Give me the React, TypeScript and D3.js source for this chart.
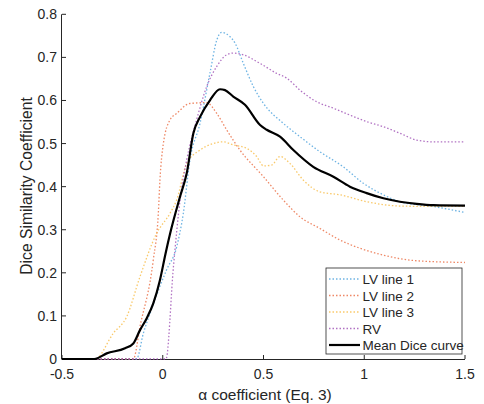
import React from "react";
import * as d3 from "d3";

// series: [alpha, dice]
const lvLine1: [number, number][] = [
  [-0.5, 0], [-0.13, 0], [-0.096, 0.06], [-0.063, 0.106], [0.019, 0.207], [0.069, 0.26],
  [0.102, 0.338], [0.135, 0.462], [0.185, 0.547], [0.234, 0.663], [0.268, 0.74],
  [0.292, 0.758], [0.334, 0.748], [0.359, 0.733], [0.4, 0.686], [0.45, 0.632],
  [0.5, 0.593], [0.598, 0.547], [0.681, 0.516], [0.78, 0.481], [0.896, 0.446],
  [0.995, 0.408], [1.095, 0.381], [1.177, 0.365], [1.343, 0.354], [1.5, 0.34],
];
const lvLine2: [number, number][] = [
  [-0.5, 0], [-0.146, 0], [-0.113, 0.075], [-0.047, 0.23], [-0.022, 0.338], [-0.014, 0.415],
  [0.003, 0.5], [0.036, 0.555], [0.069, 0.57], [0.135, 0.593], [0.218, 0.595],
  [0.268, 0.57], [0.317, 0.532], [0.383, 0.485], [0.5, 0.423], [0.598, 0.369],
  [0.681, 0.33], [0.78, 0.303], [0.88, 0.276], [0.979, 0.257], [1.095, 0.241],
  [1.26, 0.228], [1.5, 0.224],
];
const lvLine3: [number, number][] = [
  [-0.5, 0], [-0.336, 0], [-0.245, 0.06], [-0.179, 0.098], [-0.113, 0.191], [-0.03, 0.292],
  [0.036, 0.338], [0.069, 0.369], [0.119, 0.454], [0.185, 0.485], [0.251, 0.5],
  [0.3, 0.504], [0.35, 0.497], [0.416, 0.489], [0.466, 0.47], [0.5, 0.448],
  [0.54, 0.45], [0.582, 0.47], [0.631, 0.454], [0.698, 0.415], [0.78, 0.388],
  [0.88, 0.381], [1.012, 0.365], [1.177, 0.355], [1.343, 0.354], [1.5, 0.354],
];
const rv: [number, number][] = [
  [-0.5, 0], [0.016, 0], [0.053, 0.214], [0.086, 0.369], [0.119, 0.462], [0.168, 0.555],
  [0.218, 0.632], [0.268, 0.679], [0.317, 0.706], [0.35, 0.71], [0.4, 0.706],
  [0.483, 0.686], [0.565, 0.663], [0.615, 0.652], [0.681, 0.624], [0.764, 0.597],
  [0.847, 0.582], [0.929, 0.566], [1.012, 0.551], [1.095, 0.539], [1.177, 0.524],
  [1.26, 0.508], [1.343, 0.504], [1.5, 0.504],
];
const meanDice: [number, number][] = [
  [-0.5, 0], [-0.34, 0], [-0.278, 0.013], [-0.187, 0.025], [-0.146, 0.036], [-0.113, 0.067],
  [-0.08, 0.094], [-0.047, 0.129], [-0.014, 0.183], [0.014, 0.245], [0.036, 0.29],
  [0.086, 0.377], [0.119, 0.431], [0.152, 0.524], [0.185, 0.562], [0.235, 0.601],
  [0.284, 0.626], [0.309, 0.624], [0.35, 0.609], [0.408, 0.59], [0.483, 0.543],
  [0.516, 0.532], [0.582, 0.516], [0.648, 0.485], [0.747, 0.446], [0.847, 0.423],
  [0.929, 0.4], [1.012, 0.385], [1.095, 0.373], [1.177, 0.365], [1.26, 0.36],
  [1.343, 0.357], [1.5, 0.356],
];

const xTicks = [-0.5, 0, 0.5, 1, 1.5];
const xTickLabels = ["-0.5", "0", "0.5", "1", "1.5"];
const yTicks = [0, 0.1, 0.2, 0.3, 0.4, 0.5, 0.6, 0.7, 0.8];
const yTickLabels = ["0", "0.1", "0.2", "0.3", "0.4", "0.5", "0.6", "0.7", "0.8"];

const seriesNames = ["LV line 1", "LV line 2", "LV line 3", "RV", "Mean Dice curve"];

const W = 484;
const H = 404;
const FONT = "'Liberation Sans', Arial, Helvetica, sans-serif";
const TXT = "#262626";

export default function App() {
  const x = d3.scaleLinear().domain([-0.5, 1.5]).range([62, 465]);
  const y = d3.scaleLinear().domain([0, 0.8]).range([359, 14.3]);
  const line = d3.line<[number, number]>()
    .x((d) => x(d[0]))
    .y((d) => y(d[1]))
    .curve(d3.curveMonotoneX);

  const series = [
    { name: seriesNames[0], data: lvLine1, color: "#4aa0dc", dash: "1.5 2", w: 1.3, op: 0.8 },
    { name: seriesNames[1], data: lvLine2, color: "#ea6a40", dash: "1.5 2", w: 1.3, op: 0.8 },
    { name: seriesNames[2], data: lvLine3, color: "#f7bb45", dash: "1.5 2", w: 1.3, op: 0.8 },
    { name: seriesNames[3], data: rv, color: "#9e4fb4", dash: "1.5 2", w: 1.3, op: 0.8 },
    { name: seriesNames[4], data: meanDice, color: "#000000", dash: "", w: 2.2, op: 1 },
  ];

  const lg = { x: 326, y: 268, w: 136, h: 86 };

  return (
    <svg width={W} height={H} style={{ position: "absolute", left: 0, top: 0, background: "#fff" }}>
      <rect x={0} y={0} width={W} height={H} fill="#fff" />
      <defs>
        <clipPath id="plot">
          <rect x={x(-0.5)} y={y(0.8)} width={x(1.5) - x(-0.5)} height={y(0) - y(0.8) + 1} />
        </clipPath>
      </defs>
      {/* axes */}
      <g stroke={TXT} strokeWidth={1}>
        <line x1={x(-0.5)} x2={x(1.5)} y1={y(0) + 0.5} y2={y(0) + 0.5} />
        <line x1={x(-0.5) - 0.5} x2={x(-0.5) - 0.5} y1={y(0.8)} y2={y(0) + 0.5} />
        {xTicks.map((t) => (
          <line key={"xt" + t} x1={x(t)} x2={x(t)} y1={y(0)} y2={y(0) - 4} />
        ))}
        {yTicks.map((t) => (
          <line key={"yt" + t} x1={x(-0.5)} x2={x(-0.5) + 4} y1={y(t)} y2={y(t)} />
        ))}
      </g>
      <g fontFamily={FONT} fontSize={14} fill={TXT}>
        {xTicks.map((t, i) => (
          <text key={"xl" + t} x={x(t)} y={y(0) + 20} textAnchor="middle">{xTickLabels[i]}</text>
        ))}
        {yTicks.map((t, i) => (
          <text key={"yl" + t} x={x(-0.5) - 5} y={y(t) + 5} textAnchor="end">{yTickLabels[i]}</text>
        ))}
        <text x={265} y={400} textAnchor="middle" fontSize={15.5}>α coefficient (Eq. 3)</text>
        <text transform={`translate(32,186) rotate(-90)`} textAnchor="middle" fontSize={15.7}>
          Dice Similarity Coefficient
        </text>
      </g>
      {/* curves */}
      <g clipPath="url(#plot)" fill="none">
        {series.map((s) => (
          <path key={s.name} d={line(s.data) || ""} stroke={s.color} strokeWidth={s.w}
            strokeDasharray={s.dash} strokeOpacity={s.op} strokeLinejoin="round" />
        ))}
      </g>
      {/* legend */}
      <g>
        <rect x={lg.x} y={lg.y} width={lg.w} height={lg.h} fill="#fff" stroke="#262626" strokeWidth={0.8} />
        {series.map((s, i) => {
          const ry = 279 + i * 16.5;
          return (
            <g key={"lg" + s.name}>
              <line x1={329} x2={360} y1={ry} y2={ry} stroke={s.color} strokeWidth={s.w}
                strokeDasharray={s.dash} strokeOpacity={s.op} />
              <text x={362.5} y={ry + 5} fontFamily={FONT} fontSize={13.5} fill={TXT}>{s.name}</text>
            </g>
          );
        })}
      </g>
    </svg>
  );
}
